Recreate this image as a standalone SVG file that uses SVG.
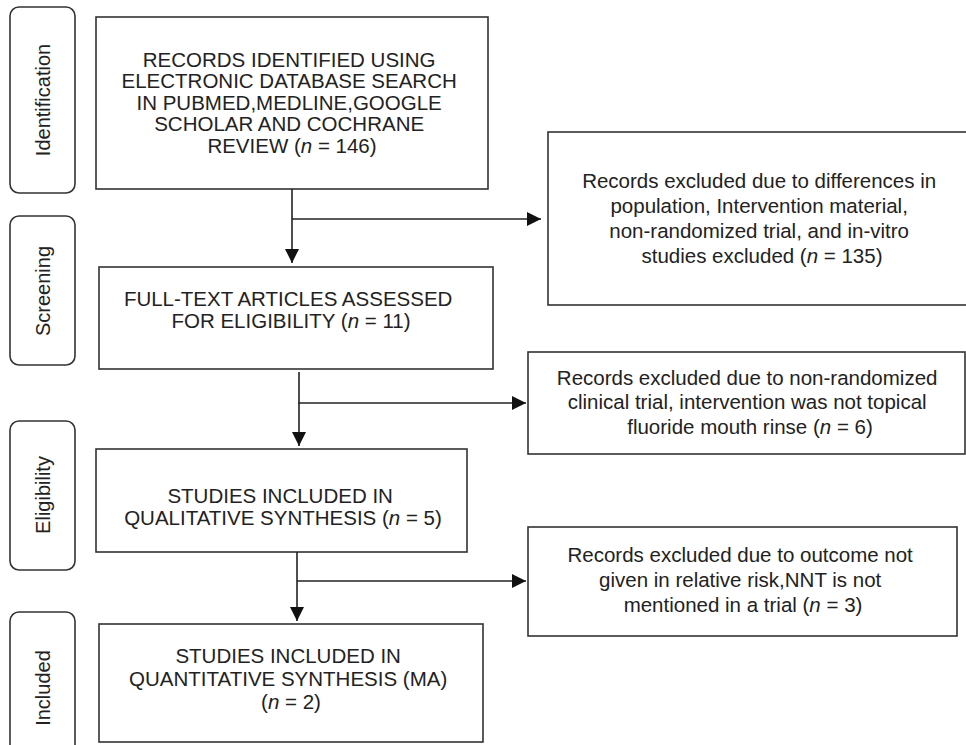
<svg xmlns="http://www.w3.org/2000/svg" width="966" height="745" viewBox="0 0 966 745">
<style>
.box{fill:#fff;stroke:#333;stroke-width:1.6}
.side{fill:#fff;stroke:#333;stroke-width:1.6}
.t{font-family:"Liberation Sans",Arial,sans-serif;font-size:20.5px;fill:#222;text-anchor:middle}
.s{font-family:"Liberation Sans",Arial,sans-serif;font-size:20px;fill:#222;text-anchor:middle}
.c{fill:none;stroke:#222;stroke-width:1.6}
.i{font-style:italic}
</style>
<defs>
<marker id="ah" markerUnits="userSpaceOnUse" markerWidth="14" markerHeight="14" refX="14" refY="7" orient="auto" viewBox="0 0 14 14">
<path d="M0,0 L14,7 L0,14 z" fill="#111"/>
</marker>
</defs>
<rect width="966" height="745" fill="#fff"/>

<g id="side-identification">
<rect class="side" x="10" y="7" width="65" height="186" rx="9"/>
<text class="s" transform="translate(50,100) rotate(-90)">Identification</text>
</g>
<g id="side-screening">
<rect class="side" x="10" y="216" width="65" height="149" rx="9"/>
<text class="s" transform="translate(50,291) rotate(-90)">Screening</text>
</g>
<g id="side-eligibility">
<rect class="side" x="10" y="421" width="65" height="149" rx="9"/>
<text class="s" transform="translate(50,495) rotate(-90)">Eligibility</text>
</g>
<g id="side-included">
<rect class="side" x="10" y="612" width="65" height="152" rx="9"/>
<text class="s" transform="translate(50,688) rotate(-90)">Included</text>
</g>

<g id="n-records">
<rect class="box" x="96" y="17" width="392" height="172"/>
<text class="t">
<tspan x="292" y="66.5">RECORDS IDENTIFIED USING</tspan>
<tspan x="292" y="88.1">ELECTRONIC DATABASE SEARCH</tspan>
<tspan x="292" y="109.7">IN PUBMED,MEDLINE,GOOGLE</tspan>
<tspan x="292" y="131.3">SCHOLAR AND COCHRANE</tspan>
<tspan x="292" y="152.9">REVIEW (<tspan class="i">n</tspan> = 146)</tspan>
</text>
</g>

<g id="n-fulltext">
<rect class="box" x="99" y="267" width="394" height="102"/>
<text class="t">
<tspan x="291" y="305.5">FULL-TEXT ARTICLES ASSESSED</tspan>
<tspan x="291" y="328">FOR ELIGIBILITY (<tspan class="i">n</tspan> = 11)</tspan>
</text>
</g>

<g id="n-qualitative">
<rect class="box" x="96" y="449" width="371" height="103"/>
<text class="t">
<tspan x="283" y="503">STUDIES INCLUDED IN</tspan>
<tspan x="283" y="525">QUALITATIVE SYNTHESIS (<tspan class="i">n</tspan> = 5)</tspan>
</text>
</g>

<g id="n-quantitative">
<rect class="box" x="99" y="624" width="384" height="118"/>
<text class="t">
<tspan x="291" y="663">STUDIES INCLUDED IN</tspan>
<tspan x="291" y="686">QUANTITATIVE SYNTHESIS (MA)</tspan>
<tspan x="291" y="709">(<tspan class="i">n</tspan> = 2)</tspan>
</text>
</g>

<g id="n-excluded1">
<rect class="box" x="548" y="132" width="428" height="173"/>
<text class="t">
<tspan x="762" y="188">Records excluded due to differences in</tspan>
<tspan x="762" y="213">population, Intervention material,</tspan>
<tspan x="762" y="238">non-randomized trial, and in-vitro</tspan>
<tspan x="762" y="263">studies excluded (<tspan class="i">n</tspan> = 135)</tspan>
</text>
</g>

<g id="n-excluded2">
<rect class="box" x="528" y="352" width="437" height="102"/>
<text class="t">
<tspan x="750" y="384.5">Records excluded due to non-randomized</tspan>
<tspan x="750" y="409">clinical trial, intervention was not topical</tspan>
<tspan x="750" y="433.5">fluoride mouth rinse (<tspan class="i">n</tspan> = 6)</tspan>
</text>
</g>

<g id="n-excluded3">
<rect class="box" x="528" y="527" width="429" height="109"/>
<text class="t">
<tspan x="743" y="561.7">Records excluded due to outcome not</tspan>
<tspan x="743" y="586.7">given in relative risk,NNT is not</tspan>
<tspan x="743" y="611.7">mentioned in a trial (<tspan class="i">n</tspan> = 3)</tspan>
</text>
</g>

<g id="connectors">
<path class="c" d="M292,189 V263" marker-end="url(#ah)"/>
<path class="c" d="M292,219 H541" marker-end="url(#ah)"/>
<path class="c" d="M299,372 V446" marker-end="url(#ah)"/>
<path class="c" d="M298,403 H526" marker-end="url(#ah)"/>
<path class="c" d="M297,552 V621" marker-end="url(#ah)"/>
<path class="c" d="M297,581 H526" marker-end="url(#ah)"/>
</g>
</svg>
